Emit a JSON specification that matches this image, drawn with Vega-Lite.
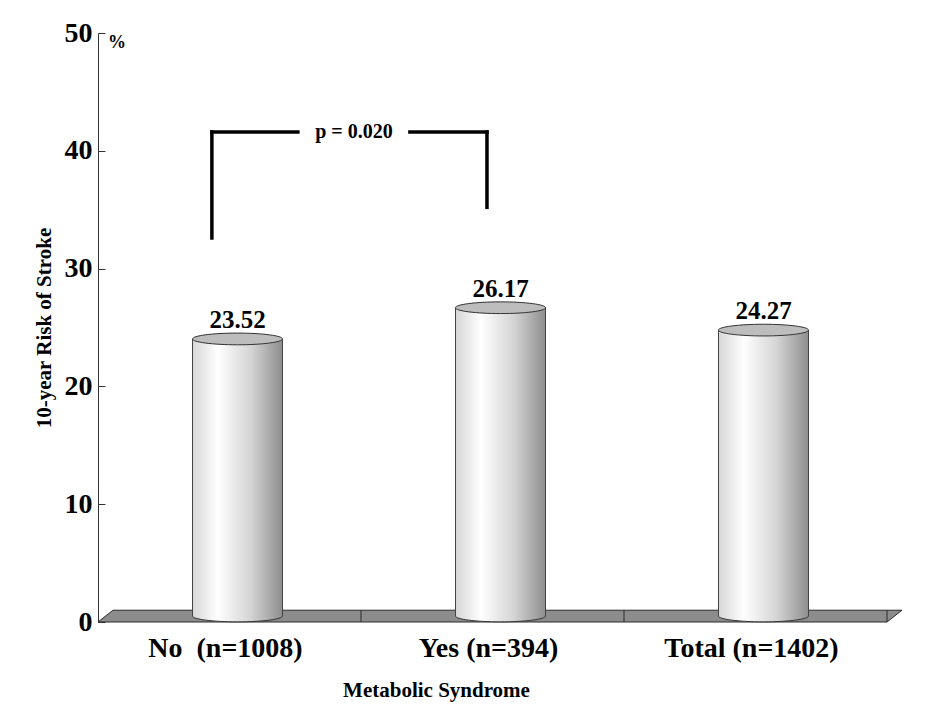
{
  "$schema": "https://vega.github.io/schema/vega-lite/v6.json",
  "width": 789,
  "height": 589,
  "autosize": {"type": "none"},
  "padding": {"left": 98, "top": 33, "right": 57, "bottom": 87},
  "background": "white",
  "config": {
    "view": {"stroke": null},
    "font": "Liberation Serif",
    "axis": {"labelFont": "Liberation Serif", "titleFont": "Liberation Serif", "labelFontWeight": "bold", "titleFontWeight": "bold", "labelColor": "black", "titleColor": "black", "grid": false},
    "axisY": {"labelFontSize": 28, "tickSize": -7, "tickColor": "#333", "domainColor": "#333", "labelPadding": 13, "titleFontSize": 21, "titlePadding": 10}
  },
  "datasets": {
    "bars": [
      {"cat": "No\u00a0 (n=1008)", "v": 23.52, "label": "23.52"},
      {"cat": "Yes (n=394)", "v": 26.17, "label": "26.17"},
      {"cat": "Total (n=1402)", "v": 24.27, "label": "24.27"}
    ],
    "floor": [
      {"px": 0, "top": 0, "bot": 0},
      {"px": 0.057, "top": 1, "bot": 0},
      {"px": 3, "top": 1, "bot": 0},
      {"px": 3.057, "top": 1, "bot": 1}
    ],
    "dividers": [{"px": 1}, {"px": 2}, {"px": 3}],
    "bracket": [
      {"px": 0.433, "px2": 0.433, "y": 32.6, "y2": 41.6},
      {"px": 0.433, "px2": 0.76, "y": 41.6, "y2": 41.6},
      {"px": 1.186, "px2": 1.479, "y": 41.6, "y2": 41.6},
      {"px": 1.479, "px2": 1.479, "y": 35.2, "y2": 41.6}
    ],
    "ptext": [{"px": 0.973, "y": 41.6, "label": "p = 0.020"}],
    "unit": [{"px": 0, "y": 50, "label": "%"}]
  },
  "resolve": {"scale": {"x": "independent"}},
  "layer": [
    {
      "layer": [
        {
          "data": {"name": "floor"},
          "mark": {"type": "area", "fill": "#8c8c8c", "stroke": "#2a2a2a", "strokeWidth": 1, "interpolate": "linear"},
          "encoding": {
            "x": {"field": "px", "type": "quantitative", "scale": {"domain": [0, 3], "nice": false, "zero": false}, "axis": null},
            "y": {"field": "top", "type": "quantitative", "scale": {"domain": [0, 50], "nice": false}, "title": "10-year Risk of Stroke"},
            "y2": {"field": "bot"}
          }
        },
        {
          "data": {"name": "dividers"},
          "mark": {"type": "rule", "color": "#2a2a2a", "strokeWidth": 1},
          "encoding": {
            "x": {"field": "px", "type": "quantitative", "scale": {"domain": [0, 3], "nice": false, "zero": false}, "axis": null},
            "y": {"datum": 0, "type": "quantitative", "title": "10-year Risk of Stroke"},
            "y2": {"datum": 1}
          }
        },
        {
          "data": {"name": "bracket"},
          "mark": {"type": "rule", "color": "black", "strokeWidth": 3.5, "strokeCap": "square"},
          "encoding": {
            "x": {"field": "px", "type": "quantitative", "scale": {"domain": [0, 3], "nice": false, "zero": false}, "axis": null},
            "x2": {"field": "px2"},
            "y": {"field": "y", "type": "quantitative", "title": "10-year Risk of Stroke"},
            "y2": {"field": "y2"}
          }
        },
        {
          "data": {"name": "ptext"},
          "mark": {"type": "text", "font": "Liberation Serif", "fontWeight": "bold", "fontSize": 20, "color": "black", "baseline": "middle", "align": "center"},
          "encoding": {
            "x": {"field": "px", "type": "quantitative", "scale": {"domain": [0, 3], "nice": false, "zero": false}, "axis": null},
            "y": {"field": "y", "type": "quantitative", "title": "10-year Risk of Stroke"},
            "text": {"field": "label"}
          }
        },
        {
          "data": {"name": "unit"},
          "mark": {"type": "text", "font": "Liberation Serif", "fontWeight": "bold", "fontSize": 18, "color": "black", "baseline": "top", "align": "left", "dx": 10, "dy": 1},
          "encoding": {
            "x": {"field": "px", "type": "quantitative", "scale": {"domain": [0, 3], "nice": false, "zero": false}, "axis": null},
            "y": {"field": "y", "type": "quantitative", "title": "10-year Risk of Stroke"},
            "text": {"field": "label"}
          }
        }
      ]
    },
    {
      "data": {"name": "bars"},
      "encoding": {
        "x": {
          "field": "cat", "type": "nominal", "sort": null,
          "scale": {"paddingInner": 0, "paddingOuter": 0},
          "axis": {"title": "Metabolic Syndrome", "labelAngle": 0, "labelFontSize": 28, "labelPadding": 12, "labelOffset": -4, "ticks": false, "domain": false, "titleFontSize": 21, "titleX": 338, "titleY": 57, "titleBaseline": "top", "titleAlign": "center"}
        },
        "y": {
          "field": "v", "type": "quantitative",
          "scale": {"domain": [0, 50], "nice": false},
          "title": "10-year Risk of Stroke",
          "axis": {"values": [0, 10, 20, 30, 40, 50]}
        }
      },
      "layer": [
        {
          "mark": {"type": "point", "shape": "M-1,0A1,0.13,0,1,0,1,0A1,0.13,0,1,0,-1,0Z", "size": 8100, "filled": true, "opacity": 1, "stroke": "#333", "strokeWidth": 1, "xOffset": 8, "yOffset": -6,
            "fill": {"gradient": "linear", "x1": 0, "x2": 1, "y1": 0, "y2": 0, "stops": [{"offset": 0, "color": "#d6d6d6"}, {"offset": 0.28, "color": "#ffffff"}, {"offset": 0.65, "color": "#d4d4d4"}, {"offset": 1, "color": "#8e8e8e"}]}},
          "encoding": {"y": {"datum": 0, "type": "quantitative", "title": "10-year Risk of Stroke"}}
        },
        {
          "mark": {"type": "bar", "width": 90, "xOffset": 8, "yOffset": -6, "y2Offset": -6,
            "fill": {"gradient": "linear", "x1": 0, "x2": 1, "y1": 0, "y2": 0, "stops": [{"offset": 0, "color": "#d6d6d6"}, {"offset": 0.28, "color": "#ffffff"}, {"offset": 0.65, "color": "#d4d4d4"}, {"offset": 1, "color": "#8e8e8e"}]}},
          "encoding": {"y2": {"datum": 0}}
        },
        {
          "mark": {"type": "rule", "color": "#444", "strokeWidth": 1, "xOffset": -37, "yOffset": -6, "y2Offset": -6},
          "encoding": {"y2": {"datum": 0}}
        },
        {
          "mark": {"type": "rule", "color": "#444", "strokeWidth": 1, "xOffset": 53, "yOffset": -6, "y2Offset": -6},
          "encoding": {"y2": {"datum": 0}}
        },
        {
          "mark": {"type": "point", "shape": "M-1,0A1,0.13,0,1,0,1,0A1,0.13,0,1,0,-1,0Z", "size": 8100, "filled": true, "opacity": 1, "fill": "#bdbdbd", "stroke": "#333", "strokeWidth": 1, "xOffset": 8, "yOffset": -6}
        },
        {
          "mark": {"type": "text", "font": "Liberation Serif", "fontWeight": "bold", "fontSize": 25, "color": "black", "baseline": "alphabetic", "align": "center", "xOffset": 8, "yOffset": -6, "dy": -11},
          "encoding": {"text": {"field": "label"}}
        }
      ]
    }
  ]
}
